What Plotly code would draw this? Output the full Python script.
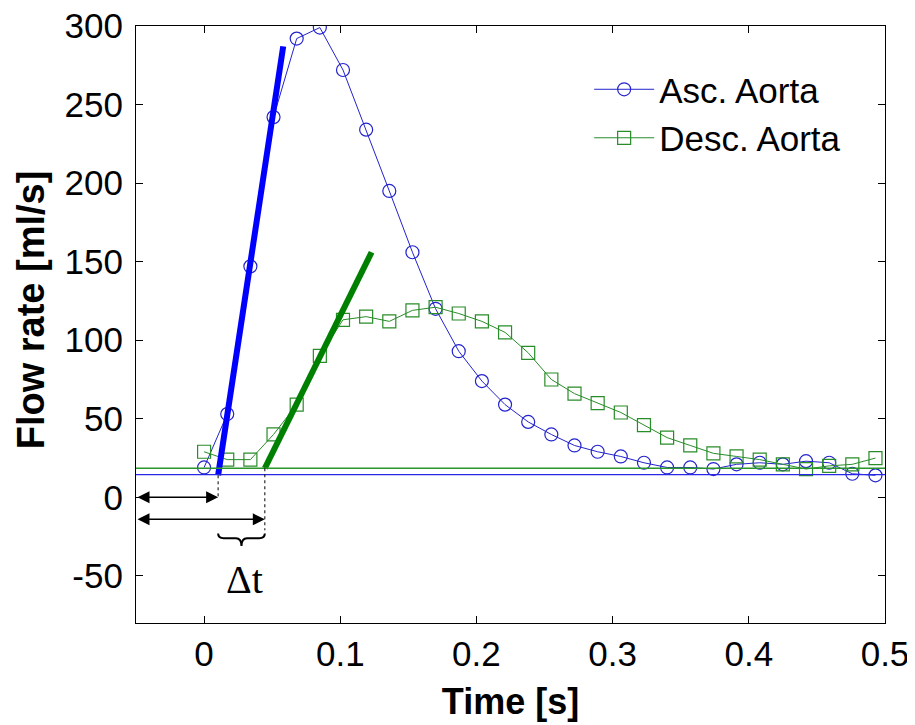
import plotly.graph_objects as go

# ---- data ----
step = 0.017
asc_flow = [19, 53, 147, 242, 292, 299, 272, 234, 195, 156, 120, 93, 74, 59, 48,
            40, 33, 29, 26, 22, 19, 19, 18, 21, 22, 21, 23, 22, 15, 14]
desc_flow = [29, 24, 24, 40, 59, 90, 113, 115, 112, 119, 121, 117, 112, 105, 92,
             75, 66, 60, 54, 46, 38, 33, 28, 26, 24, 21, 18, 20, 21, 25]
time_s = [round(i * step, 4) for i in range(len(asc_flow))]

asc_baseline = 14.5
desc_baseline = 18.5
asc_fit_t = [0.0103, 0.0581]
asc_fit_v = [14, 287]
desc_fit_t = [0.0446, 0.123]
desc_fit_v = [18.5, 156]

x_ticks = [0, 0.1, 0.2, 0.3, 0.4, 0.5]
x_tick_labels = ["0", "0.1", "0.2", "0.3", "0.4", "0.5"]
y_ticks = [-50, 0, 50, 100, 150, 200, 250, 300]
y_tick_labels = ["-50", "0", "50", "100", "150", "200", "250", "300"]

arrow1_level = 0
arrow2_level = -14
brace_top = -23
brace_bot = -31
dt_label_level = -52
x_range = [-0.05, 0.5]
y_range = [-80, 300]

FONT = "Liberation Sans, Arial, sans-serif"
SERIF = "Liberation Serif, Times New Roman, serif"
BLUE_D = "rgb(35,35,205)"
GREEN_D = "rgb(40,140,40)"

fig = go.Figure()

fig.add_trace(go.Scatter(
    x=time_s, y=asc_flow, mode="lines+markers", name="Asc. Aorta",
    line=dict(color=BLUE_D, width=1),
    marker=dict(symbol="circle-open", size=13, color=BLUE_D, line=dict(width=1.2)),
))
fig.add_trace(go.Scatter(
    x=time_s, y=desc_flow, mode="lines+markers", name="Desc. Aorta",
    line=dict(color=GREEN_D, width=1),
    marker=dict(symbol="square-open", size=13, color=GREEN_D, line=dict(width=1.2)),
))
fig.add_trace(go.Scatter(
    x=asc_fit_t, y=asc_fit_v, mode="lines", showlegend=False,
    line=dict(color="rgb(0,0,255)", width=6),
))
fig.add_trace(go.Scatter(
    x=desc_fit_t, y=desc_fit_v, mode="lines", showlegend=False,
    line=dict(color="rgb(0,128,0)", width=6),
))

# baselines
fig.add_shape(type="line", xref="paper", yref="y", x0=0, x1=1,
              y0=desc_baseline, y1=desc_baseline,
              line=dict(color="rgb(40,150,40)", width=1.3))
fig.add_shape(type="line", xref="paper", yref="y", x0=0, x1=1,
              y0=asc_baseline, y1=asc_baseline,
              line=dict(color="rgb(40,40,230)", width=1.3))

# dashed verticals
t1 = asc_fit_t[0]
t2 = desc_fit_t[0]
fig.add_shape(type="line", xref="x", yref="y", x0=t1, x1=t1,
              y0=asc_fit_v[0], y1=arrow1_level,
              line=dict(color="black", width=1, dash="3px,3px"))
fig.add_shape(type="line", xref="x", yref="y", x0=t2, x1=t2,
              y0=desc_fit_v[0], y1=brace_top + 2,
              line=dict(color="black", width=1, dash="3px,3px"))

# double arrows
for t_end, lvl in [(t1, arrow1_level), (t2, arrow2_level)]:
    fig.add_annotation(x=t_end, y=lvl, ax=x_range[0], ay=lvl,
                       xref="x", yref="y", axref="x", ayref="y",
                       text="", showarrow=True, arrowhead=2, arrowside="end+start",
                       arrowsize=1.6, arrowwidth=1.5, arrowcolor="black")

# curly brace between the onsets
mid = (t1 + t2) / 2
w = (t2 - t1) * 0.12
ym = (brace_top + brace_bot) / 2 + 1
path = (f"M {t1},{brace_top} Q {t1},{ym} {t1 + w},{ym} L {mid - w},{ym} "
        f"Q {mid},{ym} {mid},{brace_bot} Q {mid},{ym} {mid + w},{ym} "
        f"L {t2 - w},{ym} Q {t2},{ym} {t2},{brace_top}")
fig.add_shape(type="path", xref="x", yref="y", path=path,
              line=dict(color="black", width=2))

fig.add_annotation(x=mid + 0.002, y=dt_label_level, xref="x", yref="y",
                   text="Δt", showarrow=False,
                   font=dict(family=SERIF, size=40, color="black"))

# y-axis title
fig.add_annotation(x=-0.140, y=0.524, xref="paper", yref="paper",
                   text="<b>Flow rate [ml/s]</b>", textangle=-90, showarrow=False,
                   xanchor="center", yanchor="middle",
                   font=dict(family=FONT, size=38, color="black"))

axis_common = dict(showline=True, linecolor="black", linewidth=1.2, mirror="ticks",
                   ticks="inside", ticklen=7, tickcolor="black", showgrid=False,
                   zeroline=False, ticklabeloverflow="allow",
                   tickfont=dict(family=FONT, size=35, color="black"))

fig.update_xaxes(range=x_range, tickvals=x_ticks, ticktext=x_tick_labels,
                 title=dict(text="<b>Time [s]</b>", font=dict(family=FONT, size=36, color="black"),
                            standoff=16),
                 **axis_common)
fig.update_yaxes(range=y_range, tickvals=y_ticks, ticktext=y_tick_labels,
                 ticklabelstandoff=5,
                 **axis_common)

fig.update_layout(
    width=915, height=725,
    margin=dict(l=128, r=38, t=18, b=110, autoexpand=False),
    plot_bgcolor="white", paper_bgcolor="white",
    legend=dict(x=0.605, y=0.943, xanchor="left", yanchor="top",
                bgcolor="rgba(0,0,0,0)", borderwidth=0,
                font=dict(family=FONT, size=35, color="black"),
                itemwidth=60, tracegroupgap=0),
    showlegend=True,
)

fig.write_html("out.html")
